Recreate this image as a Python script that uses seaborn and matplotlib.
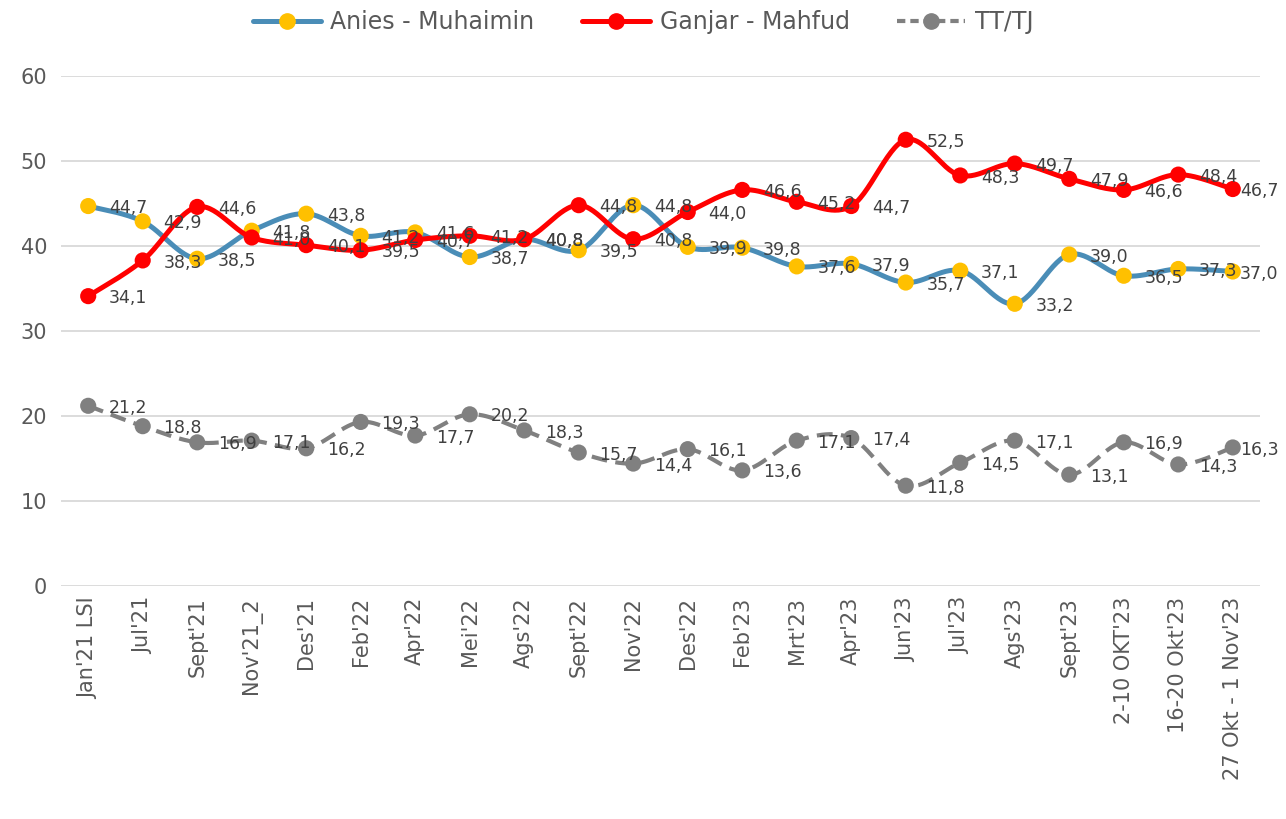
import numpy as np
import pandas as pd
import matplotlib
matplotlib.use("Agg")
import matplotlib.pyplot as plt
import seaborn as sns
from matplotlib.lines import Line2D

categories = ["Jan'21 LSI", "Jul'21", "Sept'21", "Nov'21_2", "Des'21", "Feb'22",
              "Apr'22", "Mei'22", "Ags'22", "Sept'22", "Nov'22", "Des'22",
              "Feb'23", "Mrt'23", "Apr'23", "Jun'23", "Jul'23", "Ags'23",
              "Sept'23", "2-10 OKT'23", "16-20 Okt'23", "27 Okt - 1 Nov'23"]
anies = [44.7, 42.9, 38.5, 41.8, 43.8, 41.2, 41.6, 38.7, 40.8, 39.5, 44.8,
         39.9, 39.8, 37.6, 37.9, 35.7, 37.1, 33.2, 39.0, 36.5, 37.3, 37.0]
ganjar = [34.1, 38.3, 44.6, 41.0, 40.1, 39.5, 40.7, 41.2, 40.8, 44.8, 40.8,
          44.0, 46.6, 45.2, 44.7, 52.5, 48.3, 49.7, 47.9, 46.6, 48.4, 46.7]
tttj = [21.2, 18.8, 16.9, 17.1, 16.2, 19.3, 17.7, 20.2, 18.3, 15.7, 14.4,
        16.1, 13.6, 17.1, 17.4, 11.8, 14.5, 17.1, 13.1, 16.9, 14.3, 16.3]
series_names = ["Anies - Muhaimin", "Ganjar - Mahfud", "TT/TJ"]
y_ticks = [0, 10, 20, 30, 40, 50, 60]

sns.set_theme(style="white")
plt.rcParams['font.family'] = ['DejaVu Sans']

TEXT = "#595959"
LABEL = "#404040"
GRID = "#D9D9D9"


def smooth(y, n=30):
    """Catmull-Rom style Bezier smoothing (like Excel smoothed lines)."""
    y = np.asarray(y, float)
    x = np.arange(len(y), dtype=float)
    P = np.column_stack([x, y])
    out = []
    m = len(y)
    for i in range(m - 1):
        p0 = P[max(i - 1, 0)]
        p1 = P[i]
        p2 = P[i + 1]
        p3 = P[min(i + 2, m - 1)]
        c1 = p1 + (p2 - p0) / 6.0
        c2 = p2 - (p3 - p1) / 6.0
        t = np.linspace(0, 1, n, endpoint=(i == m - 2))[:, None]
        pts = ((1 - t) ** 3) * p1 + 3 * ((1 - t) ** 2) * t * c1 + 3 * (1 - t) * t ** 2 * c2 + t ** 3 * p2
        out.append(pts)
    out = np.vstack(out)
    return out[:, 0], out[:, 1]


fig = plt.figure(figsize=(12.86, 8.19), dpi=100)
ax = fig.add_axes([0.0474, 0.2845, 0.9324, 0.6227])

specs = [
    (tttj, "#808080", "#808080", (0, (3.8, 2.0)), 3.0, 1),
    (anies, "#4A8DB7", "#FFC000", "-", 3.6, 3),
    (ganjar, "#FF0000", "#FF0000", "-", 3.6, 5),
]

for vals, lc, mc, ls, lw, z in specs:
    xs, ys = smooth(vals)
    df = pd.DataFrame({"x": xs, "y": ys})
    sns.lineplot(data=df, x="x", y="y", ax=ax, color=lc, lw=lw, sort=False,
                 estimator=None, linestyle=ls, zorder=z)
    dfp = pd.DataFrame({"x": np.arange(len(vals)), "y": vals})
    sns.scatterplot(data=dfp, x="x", y="y", ax=ax, color=mc, s=135,
                    edgecolor="none", linewidth=0, zorder=z + 1, legend=False)

last = len(categories) - 1
for vals in (anies, ganjar, tttj):
    for i, v in enumerate(vals):
        dx = 5 if i == last else 15
        ax.annotate(f"{v:.1f}".replace(".", ","), (i, v), xytext=(dx, -1.5),
                    textcoords="offset points", ha="left", va="center",
                    fontsize=12.5, color=LABEL, zorder=10)

ax.set_xlim(-0.5, len(categories) - 0.5)
ax.set_ylim(0, 60)
ax.set_yticks(y_ticks)
ax.set_yticklabels([str(t) for t in y_ticks], fontsize=15, color=TEXT)
ax.set_xticks(range(len(categories)))
ax.set_xticklabels(categories, rotation=90, fontsize=15, color=TEXT)
ax.tick_params(axis="both", length=0, pad=10)
ax.tick_params(axis="x", pad=8)
ax.set_xlabel("")
ax.set_ylabel("")
for s in ax.spines.values():
    s.set_visible(False)
ax.yaxis.grid(True, color=GRID, lw=1.3)
ax.xaxis.grid(False)
ax.set_axisbelow(True)

handles = [
    Line2D([0], [0], color="#4A8DB7", lw=3.6, marker="o", markersize=11,
           markerfacecolor="#FFC000", markeredgecolor="#FFC000"),
    Line2D([0], [0], color="#FF0000", lw=3.6, marker="o", markersize=11,
           markerfacecolor="#FF0000", markeredgecolor="#FF0000"),
    Line2D([0], [0], color="#808080", lw=3.0, linestyle=(0, (2.0, 1.2)), marker="o",
           markersize=11, markerfacecolor="#808080", markeredgecolor="#808080"),
]
fig.legend(handles, series_names, loc="center", bbox_to_anchor=(0.5, 0.973),
           ncol=3, frameon=False, fontsize=17, handlelength=2.9,
           columnspacing=2.0, handletextpad=0.4, labelcolor=TEXT)

fig.savefig("out.png", dpi=100)
